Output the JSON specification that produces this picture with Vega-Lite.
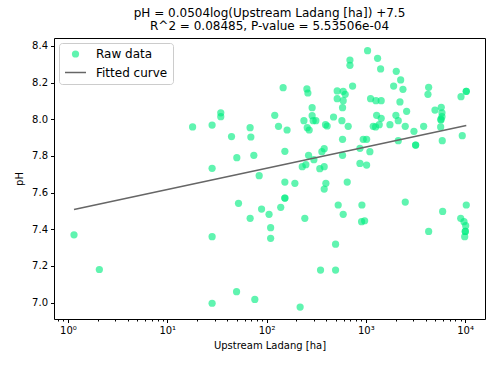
{
  "$schema": "https://vega.github.io/schema/vega-lite/v6.json",
  "width": 431,
  "height": 281,
  "autosize": {"type": "none"},
  "padding": {"left": 54, "top": 38, "right": 2, "bottom": 46},
  "background": "white",
  "title": {
    "text": ["pH = 0.0504log(Upstream Ladang [ha]) +7.5", "R^2 = 0.08485, P-value = 5.53506e-04"],
    "font": "DejaVu Sans",
    "fontSize": 12,
    "fontWeight": "normal",
    "lineHeight": 13,
    "offset": 5,
    "color": "black"
  },
  "config": {
    "view": {"stroke": "black", "strokeWidth": 1},
    "axis": {
      "labelFont": "DejaVu Sans",
      "titleFont": "DejaVu Sans",
      "labelFontSize": 10,
      "titleFontSize": 10,
      "titleFontWeight": "normal",
      "labelColor": "black",
      "titleColor": "black",
      "tickColor": "black",
      "grid": false,
      "domain": false
    },
    "legend": {
      "orient": "top-left",
      "offset": 5,
      "strokeColor": "#cccccc",
      "cornerRadius": 3,
      "fillColor": "white",
      "padding": 5,
      "labelFont": "DejaVu Sans",
      "labelFontSize": 12,
      "labelColor": "black",
      "labelOffset": 9,
      "rowPadding": -4,
      "symbolStrokeWidth": 1.5
    }
  },
  "datasets": {
    "raw": [
      {"ladang": 1.15, "pH": 7.369}, {"ladang": 2.07, "pH": 7.18}, {"ladang": 18.0, "pH": 7.958},
      {"ladang": 28.3, "pH": 7.968}, {"ladang": 34.6, "pH": 8.035}, {"ladang": 34.6, "pH": 8.014},
      {"ladang": 44.4, "pH": 7.905}, {"ladang": 28.3, "pH": 7.732}, {"ladang": 50.2, "pH": 7.79},
      {"ladang": 68.3, "pH": 7.954}, {"ladang": 69.5, "pH": 7.903}, {"ladang": 74.5, "pH": 7.803},
      {"ladang": 84.3, "pH": 7.692}, {"ladang": 121, "pH": 8.021}, {"ladang": 132, "pH": 7.961},
      {"ladang": 147, "pH": 8.172}, {"ladang": 161, "pH": 7.941}, {"ladang": 153, "pH": 7.825},
      {"ladang": 255, "pH": 8.165}, {"ladang": 261, "pH": 8.143}, {"ladang": 288, "pH": 8.063},
      {"ladang": 288, "pH": 8.019}, {"ladang": 238, "pH": 7.992}, {"ladang": 295, "pH": 7.992},
      {"ladang": 314, "pH": 7.992}, {"ladang": 257, "pH": 7.954}, {"ladang": 269, "pH": 7.941},
      {"ladang": 393, "pH": 7.97}, {"ladang": 408, "pH": 7.963}, {"ladang": 473, "pH": 8.012},
      {"ladang": 515, "pH": 8.154}, {"ladang": 515, "pH": 8.112}, {"ladang": 265, "pH": 7.803},
      {"ladang": 381, "pH": 7.839}, {"ladang": 361, "pH": 7.823}, {"ladang": 300, "pH": 7.779},
      {"ladang": 249, "pH": 7.752}, {"ladang": 229, "pH": 7.741}, {"ladang": 381, "pH": 7.741},
      {"ladang": 344, "pH": 7.73},
      {"ladang": 153, "pH": 7.657}, {"ladang": 193, "pH": 7.65}, {"ladang": 396, "pH": 7.65},
      {"ladang": 381, "pH": 7.619}, {"ladang": 153, "pH": 7.57}, {"ladang": 153, "pH": 7.57},
      {"ladang": 52.2, "pH": 7.541}, {"ladang": 89.1, "pH": 7.51}, {"ladang": 139, "pH": 7.519},
      {"ladang": 106, "pH": 7.481}, {"ladang": 68.4, "pH": 7.459}, {"ladang": 243, "pH": 7.459},
      {"ladang": 527, "pH": 7.532}, {"ladang": 110, "pH": 7.408}, {"ladang": 110, "pH": 7.35},
      {"ladang": 28.3, "pH": 7.359}, {"ladang": 496, "pH": 7.318}, {"ladang": 350, "pH": 7.177},
      {"ladang": 496, "pH": 7.177}, {"ladang": 49.9, "pH": 7.059}, {"ladang": 76.2, "pH": 7.017},
      {"ladang": 28.3, "pH": 6.996}, {"ladang": 218, "pH": 6.975},
      {"ladang": 1042, "pH": 8.374}, {"ladang": 1314, "pH": 8.332}, {"ladang": 1410, "pH": 8.274},
      {"ladang": 692, "pH": 8.323}, {"ladang": 692, "pH": 8.294}, {"ladang": 2027, "pH": 8.261},
      {"ladang": 2244, "pH": 8.214}, {"ladang": 1907, "pH": 8.181}, {"ladang": 2367, "pH": 8.163},
      {"ladang": 736, "pH": 8.181}, {"ladang": 592, "pH": 8.152}, {"ladang": 620, "pH": 8.136},
      {"ladang": 592, "pH": 8.101}, {"ladang": 583, "pH": 8.063}, {"ladang": 574, "pH": 7.992},
      {"ladang": 665, "pH": 7.961}, {"ladang": 583, "pH": 7.89}, {"ladang": 1117, "pH": 8.112},
      {"ladang": 1265, "pH": 8.101}, {"ladang": 1429, "pH": 8.101}, {"ladang": 2207, "pH": 8.094},
      {"ladang": 4296, "pH": 8.174}, {"ladang": 4227, "pH": 8.136}, {"ladang": 10280, "pH": 8.152},
      {"ladang": 10280, "pH": 8.152}, {"ladang": 9100, "pH": 8.123}, {"ladang": 2577, "pH": 8.043},
      {"ladang": 1285, "pH": 8.021}, {"ladang": 1429, "pH": 8.005}, {"ladang": 2010, "pH": 8.021},
      {"ladang": 2123, "pH": 7.992}, {"ladang": 4975, "pH": 8.05}, {"ladang": 5755, "pH": 8.065},
      {"ladang": 5850, "pH": 8.035}, {"ladang": 5850, "pH": 8.014}, {"ladang": 5710, "pH": 7.996},
      {"ladang": 5710, "pH": 8.0}, {"ladang": 5675, "pH": 7.958}, {"ladang": 1188, "pH": 7.961},
      {"ladang": 1255, "pH": 7.958}, {"ladang": 1365, "pH": 7.97}, {"ladang": 1750, "pH": 7.97},
      {"ladang": 2495, "pH": 7.961}, {"ladang": 3055, "pH": 7.934}, {"ladang": 3825, "pH": 7.961},
      {"ladang": 2123, "pH": 7.883}, {"ladang": 3177, "pH": 7.859}, {"ladang": 3177, "pH": 7.859},
      {"ladang": 5890, "pH": 7.883}, {"ladang": 9370, "pH": 7.91}, {"ladang": 942, "pH": 7.89},
      {"ladang": 1019, "pH": 7.89}, {"ladang": 873, "pH": 7.841}, {"ladang": 1099, "pH": 7.823},
      {"ladang": 583, "pH": 7.803}, {"ladang": 873, "pH": 7.759}, {"ladang": 1019, "pH": 7.75},
      {"ladang": 650, "pH": 7.657}, {"ladang": 914, "pH": 7.532}, {"ladang": 592, "pH": 7.481},
      {"ladang": 907, "pH": 7.441}, {"ladang": 973, "pH": 7.446}, {"ladang": 2497, "pH": 7.548},
      {"ladang": 5945, "pH": 7.497}, {"ladang": 4296, "pH": 7.388}, {"ladang": 10280, "pH": 7.532},
      {"ladang": 9035, "pH": 7.459}, {"ladang": 9750, "pH": 7.441}, {"ladang": 10140, "pH": 7.419},
      {"ladang": 10050, "pH": 7.388}, {"ladang": 10050, "pH": 7.388}, {"ladang": 9910, "pH": 7.359}
    ],
    "fit": [
      {"ladang": 1.15, "pH": 7.507},
      {"ladang": 10280, "pH": 7.966}
    ]
  },
  "layer": [
    {
      "data": {"name": "raw"},
      "mark": {"type": "point", "filled": true, "strokeWidth": 1.5},
      "encoding": {
        "x": {
          "field": "ladang", "type": "quantitative",
          "scale": {"type": "log", "domain": [0.723, 15873], "nice": false},
          "axis": {
            "orient": "bottom",
            "values": [1, 10, 100, 1000, 10000],
            "labelExpr": "datum.value == 1 ? '10⁰' : datum.value == 10 ? '10¹' : datum.value == 100 ? '10²' : datum.value == 1000 ? '10³' : '10⁴'",
            "title": "Upstream Ladang [ha]",
            "tickSize": 3.5,
            "labelPadding": 3,
            "titlePadding": 5
          }
        },
        "y": {
          "field": "pH", "type": "quantitative",
          "scale": {"domain": [6.91, 8.443], "nice": false, "zero": false},
          "axis": {
            "values": [7.0, 7.2, 7.4, 7.6, 7.8, 8.0, 8.2, 8.4],
            "format": ".1f",
            "title": "pH",
            "tickSize": 3.5,
            "labelPadding": 3,
            "titlePadding": 7
          }
        },
        "fill": {
          "datum": "Raw data",
          "scale": {"domain": ["Raw data", "Fitted curve"], "range": ["#00EE80", "transparent"]},
          "legend": {"title": null}
        },
        "stroke": {
          "datum": "Raw data",
          "scale": {"domain": ["Raw data", "Fitted curve"], "range": ["transparent", "#666666"]},
          "legend": {"title": null}
        },
        "shape": {
          "datum": "Raw data",
          "scale": {"domain": ["Raw data", "Fitted curve"], "range": ["circle", "stroke"]},
          "legend": {"title": null}
        },
        "size": {
          "datum": "Raw data",
          "type": "nominal",
          "scale": {"type": "ordinal", "domain": ["Raw data", "Fitted curve"], "range": [52, 440]},
          "legend": {"title": null}
        },
        "opacity": {
          "datum": "Raw data",
          "type": "nominal",
          "scale": {"type": "ordinal", "domain": ["Raw data", "Fitted curve"], "range": [0.62, 1]},
          "legend": {"title": null}
        }
      }
    },
    {
      "data": {"name": "fit"},
      "mark": {"type": "line", "color": "#666666", "strokeWidth": 1.5},
      "encoding": {
        "x": {
          "field": "ladang", "type": "quantitative",
          "scale": {"type": "log", "domain": [0.723, 15873], "nice": false},
          "axis": {
            "orient": "bottom",
            "values": [0.8, 0.9, 2, 3, 4, 5, 6, 7, 8, 9, 20, 30, 40, 50, 60, 70, 80, 90, 200, 300, 400, 500, 600, 700, 800, 900, 2000, 3000, 4000, 5000, 6000, 7000, 8000, 9000],
            "labels": false,
            "tickSize": 2,
            "title": null
          }
        },
        "y": {"field": "pH", "type": "quantitative"}
      }
    }
  ],
  "resolve": {"axis": {"x": "independent"}}
}
